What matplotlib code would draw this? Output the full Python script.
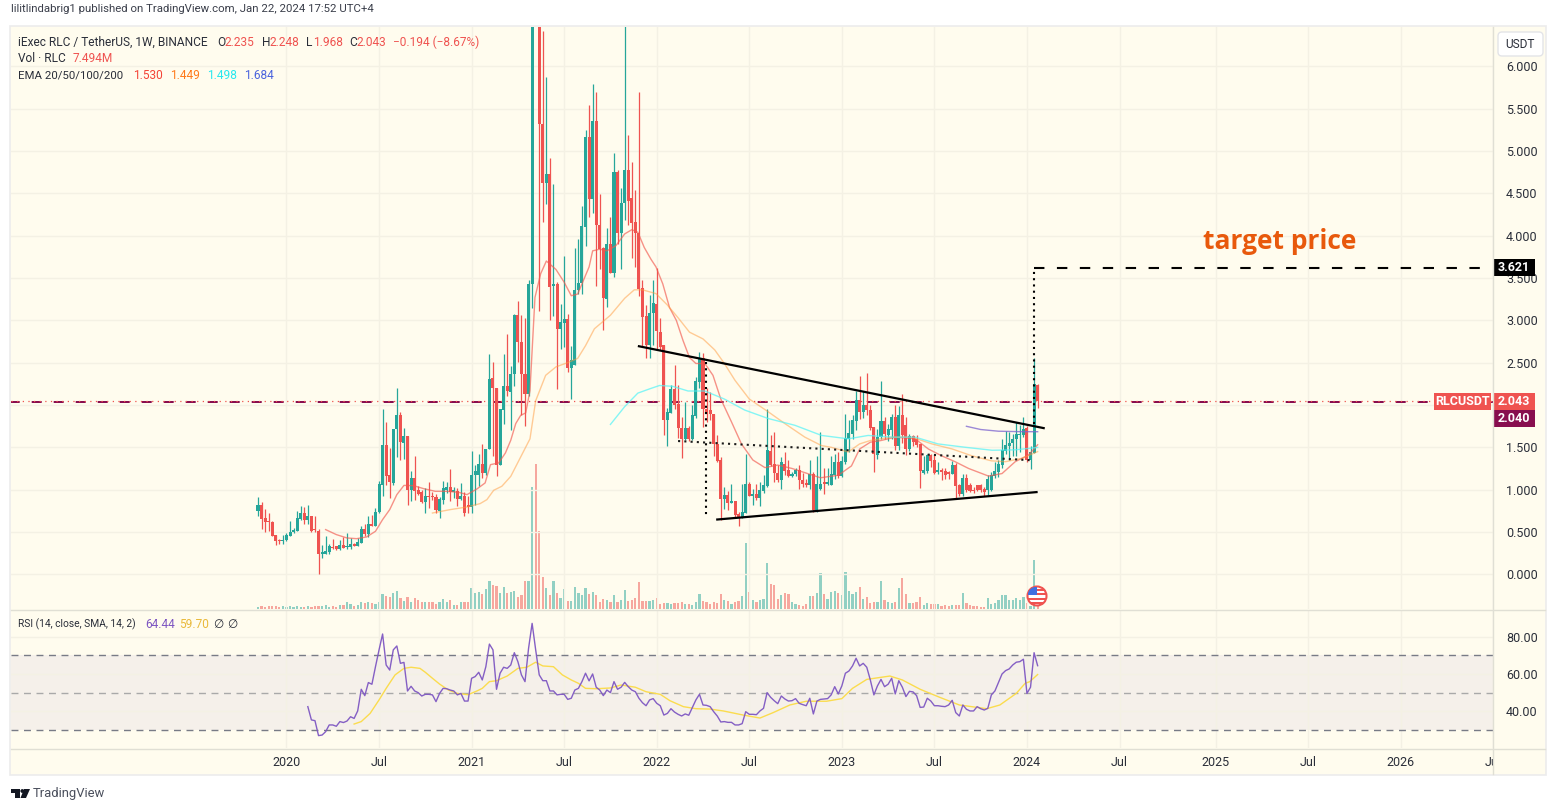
import matplotlib
matplotlib.use('Agg')
import matplotlib.pyplot as plt
from matplotlib.patches import Circle, FancyBboxPatch, Polygon, Rectangle
import numpy as np

W, H = 1557, 811

opens = [.752, .823, .669, .622, .622, .469, .40, .39, .40, .457,
         .496, .516, .657, .724, .646, .693, .528, .516, .244, .244,
         .26, .323, .33, .30, .35, .327, .323, .362, .339, .374,
         .539, .48, .598, .575, .732, 1.059, 1.531, 1.177, 1.079, 1.72,
         1.886, 1.551, 1.638, 1.0, 1.142, 1.0, .969, .858, .929, .921,
         .913, .752, .882, 1.0, 1.03, .97, .984, .894, .929, .82,
         .791, 1.169, 1.169, 1.307, 1.197, 1.484, 2.323, 2.205, 1.295, 1.94,
         2.22, 2.154, 2.362, 3.059, 2.744, 2.37, 2.134, 3.43, 7.6, 7.1,
         5.324, 4.616, 4.726, 3.402, 3.433, 2.898, 2.969, 3.02, 2.437, 2.47,
         3.362, 3.44, 4.1, 5.16, 4.436, 5.355, 4.13, 3.85, 3.25, 3.9,
         3.555, 4.75, 4.03, 4.39, 4.78, 4.44, 4.16, 4.03, 3.386, 3.047,
         2.705, 3.09, 3.197, 2.866, 2.713, 1.82, 1.905, 2.185, 2.01, 1.73,
         1.595, 1.73, 1.595, 1.87, 2.27, 2.55, 1.957, 1.937, 1.89, 1.54,
         1.347, .89, .933, .843, .863, .717, .677, .725, 1.063, .925,
         .945, .9, .985, 1.04, 1.453, 1.3, 1.2, 1.11, 1.307, 1.228,
         1.16, 1.18, 1.228, 1.11, 1.08, 1.05, 1.18, .756, 1.01, 1.09,
         1.07, 1.06, 1.17, 1.327, 1.16, 1.327, 1.6, 1.66, 1.807, 2.055,
         1.918, 2.004, 1.945, 1.74, 1.414, 1.62, 1.807, 1.65, 1.71, 1.86,
         1.52, 1.88, 1.76, 1.484, 1.63, 1.6, 1.535, 1.2, 1.22, 1.406,
         1.35, 1.21, 1.23, 1.217, 1.21, 1.19, 1.29, 1.05, .953, 1.142,
         1.05, .99, 1.05, 1.05, 1.01, 1.0, 1.0, 1.16, 1.21, 1.295,
         1.453, 1.51, 1.555, 1.6, 1.64, 1.65, 1.73, 1.355, 1.433, 2.235]
highs = [.917, .858, .772, .724, .634, .469, .42, .469, .49, .634,
         .547, .744, .811, .795, .823, .693, .693, .535, .35, .457,
         .362, .421, .339, .409, .441, .488, .429, .37, .429, .575,
         .598, .693, .705, .783, 1.098, 1.957, 1.803, 1.492, 1.72, 2.2,
         1.921, 1.728, 1.638, 1.22, 1.40, 1.04, 1.0, 1.02, 1.094, .97,
         .953, .913, 1.098, 1.094, 1.248, 1.03, 1.02, 1.079, .969, .921,
         1.461, 1.295, 1.425, 1.543, 1.484, 2.602, 2.512, 2.205, 1.953, 2.6,
         2.835, 2.457, 3.08, 3.224, 3.059, 3.03, 3.47, 8.2, 8.5, 7.4,
         6.42, 5.874, 4.915, 4.61, 3.45, 3.197, 3.756, 3.079, 2.7, 3.858,
         3.965, 4.35, 5.25, 5.54, 5.79, 5.7, 4.49, 3.86, 4.09, 4.216,
         4.98, 4.77, 4.56, 6.9, 5.19, 4.87, 4.54, 5.7, 3.47, 3.18,
         3.3, 3.47, 3.62, 3.03, 2.713, 1.96, 2.23, 2.47, 2.23, 1.86,
         2.035, 1.75, 2.0, 2.33, 2.62, 2.61, 2.2, 2.15, 1.89, 1.64,
         1.39, 1.03, .985, 1.063, .863, .737, 1.07, 1.418, 1.09, 1.01,
         1.07, 1.09, 1.17, 1.95, 1.642, 1.68, 1.29, 1.386, 1.445, 1.355,
         1.21, 1.25, 1.29, 1.2, 1.12, 1.35, 1.21, 1.4, 1.68, 1.25,
         1.25, 1.4, 1.42, 1.445, 1.4, 1.89, 1.82, 1.88, 2.17, 2.34,
         2.17, 2.38, 2.0, 1.74, 1.72, 2.28, 1.86, 1.78, 1.89, 1.996,
         1.99, 2.134, 1.86, 1.66, 1.65, 1.64, 1.535, 1.4, 1.425, 1.42,
         1.41, 1.33, 1.26, 1.25, 1.22, 1.34, 1.31, 1.07, 1.18, 1.19,
         1.08, 1.03, 1.06, 1.07, 1.03, 1.17, 1.21, 1.33, 1.35, 1.6,
         1.69, 1.68, 1.66, 1.8, 1.76, 1.86, 1.75, 1.52, 2.56, 2.248]
lows = [.693, .539, .5, .508, .449, .35, .36, .358, .39, .45,
        .488, .508, .646, .594, .594, .496, .50, .008, .193, .24,
        .244, .299, .291, .283, .311, .30, .299, .335, .335, .374,
        .457, .441, .567, .567, .724, .929, 1.059, .906, 1.059, 1.39,
        1.354, 1.362, .823, .87, .882, .94, .843, .724, .783, .88,
        .724, .661, .835, .96, .862, .90, .803, .882, .685, .724,
        .724, .823, 1.04, 1.138, 1.169, 1.484, 1.394, 1.165, 1.295, 1.78,
        2.1, 1.71, 2.224, 2.508, 1.878, 1.748, 2.1, 3.14, 6.6, 3.107,
        4.165, 4.37, 3.0, 3.05, 2.193, 2.665, 2.685, 2.39, 2.067, 2.47,
        3.315, 3.31, 3.88, 4.22, 4.27, 3.4, 3.61, 2.89, 3.16, 3.555,
        3.515, 3.9, 3.6, 4.18, 4.12, 3.73, 3.63, 3.29, 2.7, 2.55,
        2.55, 2.705, 2.646, 2.65, 1.64, 1.52, 1.9, 1.95, 1.61, 1.37,
        1.59, 1.58, 1.59, 1.85, 2.2, 1.74, 1.8, 1.82, 1.4, 1.33,
        .64, .775, .755, .84, .68, .57, .67, .72, .92, .815,
        .88, .81, .96, 1.03, 1.28, 1.09, 1.09, 1.012, 1.17, 1.15,
        1.15, 1.16, 1.012, 1.03, 1.03, 1.01, .74, .74, .99, .95,
        1.05, 1.05, 1.13, 1.14, 1.15, 1.3, 1.45, 1.6, 1.7, 1.83,
        1.85, 1.88, 1.7, 1.21, 1.36, 1.6, 1.6, 1.58, 1.6, 1.47,
        1.47, 1.55, 1.41, 1.46, 1.52, 1.5, 1.02, 1.19, 1.2, 1.27,
        1.18, 1.18, 1.11, 1.13, 1.13, 1.18, .906, .92, .93, .97,
        .97, .96, .98, .97, .93, .94, .98, 1.14, 1.15, 1.25,
        1.42, 1.35, 1.4, 1.4, 1.45, 1.62, 1.33, 1.24, 1.43, 1.968]
closes = [.823, .657, .614, .614, .457, .39, .39, .41, .47, .50,
          .528, .669, .724, .646, .693, .516, .52, .244, .26, .272,
          .339, .311, .303, .35, .315, .339, .362, .339, .386, .539,
          .48, .598, .575, .74, 1.071, 1.531, 1.165, 1.087, 1.72, 1.886,
          1.567, 1.638, 1.0, 1.142, .988, .953, .858, .929, .909, .91,
          .756, .89, 1.02, 1.03, .969, .99, .894, .929, .724, .80,
          1.177, 1.217, 1.307, 1.197, 1.484, 2.311, 2.197, 1.295, 1.953, 2.22,
          2.16, 2.362, 3.059, 2.744, 2.362, 2.126, 3.425, 7.6, 7.1, 5.324,
          4.616, 4.726, 3.39, 3.433, 2.898, 2.976, 3.02, 2.437, 2.535, 3.362,
          3.445, 4.117, 5.16, 4.43, 5.355, 4.13, 3.84, 3.26, 3.9, 3.56,
          4.75, 4.03, 4.39, 4.78, 4.41, 4.15, 4.03, 3.37, 3.04, 2.705,
          3.09, 3.21, 2.874, 2.68, 1.82, 1.913, 2.19, 2.0, 1.73, 1.595,
          1.73, 1.595, 1.88, 2.28, 2.555, 1.95, 1.917, 1.898, 1.54, 1.34,
          .89, .933, .843, .863, .697, .677, .733, 1.063, .925, .945,
          .898, .992, 1.05, 1.465, 1.288, 1.197, 1.11, 1.327, 1.22, 1.16,
          1.19, 1.23, 1.11, 1.07, 1.05, 1.18, .756, 1.07, 1.07, 1.065,
          1.09, 1.18, 1.327, 1.16, 1.34, 1.615, 1.67, 1.82, 2.055, 1.918,
          2.004, 1.937, 1.73, 1.425, 1.62, 1.807, 1.66, 1.72, 1.86, 1.52,
          1.88, 1.64, 1.484, 1.63, 1.565, 1.524, 1.22, 1.23, 1.406, 1.34,
          1.2, 1.23, 1.21, 1.17, 1.18, 1.29, 1.044, .953, 1.142, .992,
          .985, .98, .995, .99, .97, 1.13, 1.17, 1.22, 1.307, 1.465,
          1.524, 1.555, 1.6, 1.66, 1.66, 1.72, 1.355, 1.445, 2.25, 2.043]
# volume in millions of RLC
volumes = [1.2, 1.7, 1, 1.7, 1.7, 1.7, 1.2, 1.7, 1, 1.7,
           1, 1.7, 1.2, 1.2, 1.7, 1.2, 1.7, 1.7, 1.7, 2.2,
           1.2, 1.7, 1.2, 2.2, 2.2, 3.7, 2.7, 1.7, 2.2, 3.7,
           2.9, 3.7, 2.9, 2.7, 3.7, 7.7, 6.7, 6.2, 8.2, 9.2,
           5.7, 4.2, 6.2, 3.7, 5.7, 4.7, 3.7, 3.7, 3.7, 3.7,
           2.7, 3.7, 5.2, 3.7, 4.7, 2.2, 2.2, 3.7, 3.7, 3.7,
           10.7, 8.2, 8.7, 7.5, 10, 14, 12, 11.5, 8, 11,
           8, 8.5, 9, 6, 7, 14, 14, 61, 72.5, 39,
           16, 10.5, 7, 14, 8, 5.5, 10, 4, 4, 11,
           8, 7, 10.5, 7.5, 8.5, 7, 3.5, 5, 4.5, 3.5,
           7, 3.5, 4.5, 9.5, 4, 4.5, 5.5, 13.5, 4, 4,
           4, 4.5, 5.5, 2.5, 3, 3, 2.5, 3, 3, 3.5,
           2.5, 2.5, 2, 3.5, 7.5, 4, 3.5, 2.5, 3.5, 3,
           7.5, 4.5, 4, 2.5, 3.5, 4, 6.5, 33, 8.5, 4.5,
           3.5, 4.5, 5, 23, 12.5, 12, 5, 7, 8, 7.5,
           3.5, 2.5, 2, 1.5, 2.5, 6.5, 6.5, 8, 18, 7.5,
           5, 8.5, 9, 8, 7, 18.5, 9, 7.5, 8.5, 11,
           5, 6, 3, 3.5, 3.5, 14, 4.5, 3.5, 3, 3.5,
           10.5, 15.5, 7.5, 3, 3, 3.5, 6, 2, 3, 2.5,
           2.5, 2.5, 1.5, 2, 1.5, 2, 2, 2, 8, 3,
           2, 1.5, 1.5, 1, 1, 5.5, 2.5, 3, 4.5, 7,
           7, 4.5, 4.5, 5.5, 4.5, 6, 3, 1.5, 24.5, 7.494]

ema20_weeks = [19, 22, 25, 27.7, 30.5, 33, 35, 37, 39, 41, 43.7, 46.5, 49.8, 53, 56.3, 58.7, 61.5, 63.8, 65.3, 67.6,
               69.5, 71, 72.4, 73.8, 75.2, 76.4, 77.8, 79.4, 81, 83.7, 86, 88, 89.8, 93, 94, 96, 98, 100.5, 103, 105,
               106.7, 108.5, 110.4, 111.8, 113.7, 115.6, 117.5, 119.4, 121.2, 123, 125.5, 127.8, 130, 133, 135.8, 139,
               142.4, 146, 150, 158, 163, 166.7, 169, 172, 175, 179, 184.6, 188.3, 192, 195.8, 199.6, 205.2, 209,
               212.7, 216.5, 219]
ema20_vals = [.528, .469, .429, .421, .441, .508, .646, .764, .941, 1.05, 1.047, 1.012, .98, .98, .969, .941, 1.008,
              1.079, 1.295, 1.315, 1.433, 1.583, 1.78, 1.878, 1.906, 2.17, 3.27, 3.55, 3.70, 3.6, 3.45, 3.29, 3.31,
              3.63, 3.82, 3.84, 3.82, 3.88, 4.02, 4.07, 4.04, 3.86, 3.72, 3.63, 3.43, 3.15, 3.0, 2.76, 2.56, 2.49,
              2.49, 2.35, 2.07, 1.8, 1.54, 1.35, 1.26, 1.29, 1.25, 1.14, 1.17, 1.28, 1.48, 1.56, 1.58, 1.62, 1.60,
              1.48, 1.40, 1.33, 1.25, 1.16, 1.19, 1.33, 1.41, 1.53]
ema50_weeks = [49, 54, 58.7, 62.4, 64.3, 66.2, 68.5, 71, 76.4, 78, 80.8, 83.7, 87, 89.8, 92, 94.5, 99, 103, 105.7, 108,
               111.8, 115, 118, 121.2, 125, 128.3, 131, 134, 138, 143.3, 148, 153.6, 158.3, 161, 165.8, 169, 172, 178,
               183.6, 189.3, 195, 200.5, 206, 210, 214.6, 219]
ema50_vals = [.724, .764, .795, .835, .882, .992, 1.04, 1.157, 1.6, 2.05, 2.35, 2.45, 2.5, 2.55, 2.7, 2.9, 3.06, 3.26,
              3.36, 3.36, 3.315, 3.18, 3.03, 2.86, 2.78, 2.65, 2.49, 2.29, 2.07, 1.92, 1.78, 1.62, 1.52, 1.5, 1.445,
              1.54, 1.58, 1.62, 1.62, 1.54, 1.48, 1.40, 1.34, 1.33, 1.37, 1.449]
ema100_weeks = [99, 103, 106.7, 110, 112.8, 116.5, 120.8, 125.5, 131, 136.7, 143.3, 150.8, 158.3, 165.8, 171.4, 178,
                184.6, 191, 198.7, 206.2, 212.7, 219]
ema100_vals = [1.77, 1.98, 2.14, 2.19, 2.23, 2.22, 2.165, 2.165, 2.07, 1.94, 1.84, 1.76, 1.64, 1.60, 1.64, 1.62,
               1.62, 1.54, 1.50, 1.465, 1.47, 1.498]
ema200_weeks = [199, 203, 208, 213.7, 219]
ema200_vals = [1.748, 1.71, 1.69, 1.685, 1.684]

# rsi starts at week 14
rsi_vals = [42.5, 35.4, 35, 27, 27.3, 29.1, 32.7, 32.7, 32, 34.5, 34, 34.8, 37.1, 36.2, 40.2, 51.8, 48.4, 55.4, 54.5,
            63.9, 72.9, 81.4, 64.8, 62.1, 72.9, 75, 65.7, 66.2, 50.9, 53.4, 50.9, 50, 48.2, 49.1, 49.1, 48.8, 45.2,
            49.6, 52.3, 52.1, 51.4, 50.9, 48.8, 49.6, 45.5, 45.5, 57.7, 58.6, 60.9, 56.8, 63.9, 76, 72.9, 51.8, 60.4,
            63.6, 63, 64.8, 71.4, 66.6, 59.5, 55.9, 73.7, 87.1, 72.9, 59.5, 56.4, 56.4, 50.9, 50.9, 48.8, 49.1, 49.1,
            46.4, 47, 51.4, 52.3, 55.9, 60.4, 56.3, 60, 52.9, 51.4, 48.4, 51.4, 50, 55.9, 51.8, 52.9, 55.5, 53.2,
            51.4, 50.5, 47, 44.6, 43, 46.1, 46.8, 44.3, 43, 38, 38.9, 41.4, 39.6, 38.4, 37.5, 38.6, 37.9, 42, 46.1,
            49.1, 43.4, 43.2, 42.5, 39.8, 37.5, 34.3, 34.5, 34.1, 34.1, 32.7, 32.7, 33.4, 39.8, 38.4, 38.4, 38.2,
            40.2, 41.6, 50, 47.5, 45.7, 44.1, 48.2, 46.6, 45.5, 45.7, 46.8, 44.3, 43.6, 43, 47, 38.6, 45.5, 46.4,
            46.6, 46.8, 48.8, 53.2, 49.3, 53.6, 60.4, 61.6, 64.3, 68.4, 64.3, 65.7, 63.6, 56.8, 48.8, 53.6, 57.1,
            53.2, 54.5, 57.7, 49.3, 56.4, 52.9, 47.9, 50.7, 50.4, 48.4, 42.1, 42.3, 47, 45.5, 43, 43, 42.7, 42.5,
            43.4, 45.9, 39.3, 37.5, 43.4, 41.1, 40.2, 40.2, 42.5, 41.4, 40.7, 41.6, 48.8, 50.9, 55.4, 60, 61.8, 62.7,
            64.8, 66.3, 66.6, 67.9, 49.6, 52.9, 71.4, 64.44]
rsi_sma_weeks = [27, 29, 31.5, 34, 36, 38.5, 41, 43, 45.5, 47, 49, 51, 53.5, 56, 59, 61.5, 63, 65, 67, 70, 73, 75.5,
                 78, 80, 83, 85.5, 88, 90, 92, 95, 99, 102, 106, 109, 113, 115.7, 119.5, 123, 127, 130.7, 136.3, 141,
                 144.7, 149.4, 154, 159.7, 164, 167, 171, 177.5, 181, 186, 191.5, 197, 204.7, 208.4, 213, 215.5,
                 216.8, 219]
rsi_sma_vals = [33.2, 34.5, 38.9, 46.1, 52.3, 59.5, 63, 63.6, 63, 60.9, 57.7, 54.6, 51.4, 49.6, 48.9, 50.9, 52.3, 55.9,
                56.4, 58.9, 63, 63.6, 66.3, 64.3, 63.9, 59.5, 56.8, 55, 52.3, 52.1, 52.5, 54.1, 52.9, 50.5, 49.1, 45.7,
                42.5, 41.4, 41.2, 40.2, 38, 36.4, 39.3, 43.4, 45.4, 45.4, 46.8, 52.3, 57.1, 58.9, 56.8, 51.8, 47.5,
                43.4, 41.4, 43.4, 49.6, 55, 55.9, 59.7]

time_ticks = [8, 34, 60, 86, 112, 138, 164, 190, 216, 242, 269, 295, 321, 347]
time_labels = ['2020', 'Jul', '2021', 'Jul', '2022', 'Jul', '2023', 'Jul', '2024', 'Jul', '2025', 'Jul', '2026', 'Jul']
price_ticks = np.arange(0, 6.5, 0.5)
rsi_ticks = [40, 60, 80]

# hand drawn lines on the chart (week, price)
upper_line = ([106.7, 221], [2.696, 1.724])
lower_line = ([128.7, 219], [.646, .972])
mid_line = ([118, 217.7], [1.574, 1.346])
drop_line = ([125.8, 125.8], [2.507, .677])
target_rise = ([218, 218], [1.78, 3.621])
target_run = ([218, 344.5], [3.621, 3.621])
target_text = (287, 3.93)

BG = '#fffcee'
GRID = '#f4f1e4'
UP = '#26a69a'
DOWN = '#ef5350'
TEXT = '#2a2e39'
FONT = 'Roboto'
plt.rcParams['font.family'] = [FONT, 'DejaVu Sans']

SPACING = 3.56
X0 = 258.0
AX_L, AX_R = 11, 1493.5


def px_axes(x0, y0, x1, y1, **kw):
    return fig.add_axes([x0 / W, 1 - y1 / H, (x1 - x0) / W, (y1 - y0) / H], **kw)


fig = plt.figure(figsize=(W / 100, H / 100), dpi=100, facecolor='white')
xlim = ((AX_L - X0) / SPACING, (AX_R - X0) / SPACING)
weeks = np.arange(len(closes))
o, h_, l_, c = map(np.array, (opens, highs, lows, closes))
colors = np.where(c >= o, UP, DOWN)

# volume sits under the candles in the same pane
ax_vol = px_axes(AX_L, 27, AX_R, 609)
ax_vol.set_facecolor(BG)
ax_vol.set_xlim(xlim)
ax_vol.set_ylim(0, 291)
ax_vol.bar(weeks, volumes, width=0.62, color=list(colors), alpha=0.5, linewidth=0)
ax_vol.axis('off')
ax_vol.patch.set_visible(True)

ax = px_axes(AX_L, 27, AX_R, 609)
ax.patch.set_alpha(0)
ax.set_xlim(xlim)
ax.set_ylim((574.3 - 609) / 84.67, (574.3 - 27) / 84.67)
ax.set_xticks(time_ticks)
ax.set_yticks(price_ticks)
# 2.000 sits under the price tags, so it gets no label
ax.set_yticklabels(['' if p == 2.0 else '%.3f' % p for p in price_ticks])
ax.yaxis.tick_right()
ax.tick_params(axis='y', length=0, pad=9, labelsize=9, labelcolor=TEXT)
ax.tick_params(axis='x', length=0, labelbottom=False)
ax.grid(True, color=GRID, linewidth=1.0)
ax.set_axisbelow(True)
for s in ax.spines.values():
    s.set_visible(False)

# 2.040 horizontal line and last price line
ax.axhline(2.040, color='#880e4f', lw=1.44, linestyle=(0.65, (5, 6)), dash_capstyle='butt', zorder=1.5)
ax.axhline(2.043, color=DOWN, lw=0.9, linestyle=(0, (1, 3.5)), zorder=1.6)

# candles
ax.vlines(weeks, l_, h_, colors=list(colors), linewidth=0.9, zorder=2)
bodies = np.maximum(np.abs(c - o), 0.012)
ax.bar(weeks, bodies, bottom=np.minimum(o, c), width=0.86, color=list(colors), linewidth=0, zorder=2.1)

# ema lines
ax.plot(ema20_weeks, ema20_vals, color='#f2594f', alpha=0.65, lw=1.0, zorder=2.5)
ax.plot(ema50_weeks, ema50_vals, color='#ff9a3c', alpha=0.5, lw=1.0, zorder=2.5)
ax.plot(ema100_weeks, ema100_vals, color='#52f3f7', alpha=0.7, lw=1.0, zorder=2.5)
ax.plot(ema200_weeks, ema200_vals, color='#7b63cf', alpha=0.75, lw=1.0, zorder=2.5)

# trend lines
for xs, ys in (upper_line, lower_line):
    ax.plot(xs, ys, color='black', lw=1.6, solid_capstyle='butt', zorder=3)
ax.plot(*mid_line, color='#1a1a1a', lw=1.5, linestyle=(0, (1, 2)), zorder=3)
ax.plot(*drop_line, color='black', lw=1.5, linestyle=(0, (1, 2)), zorder=3)
ax.plot(*target_rise, color='black', lw=1.5, linestyle=(0, (1, 2)), zorder=3)
ax.plot(*target_run, color='black', lw=1.5, linestyle=(0, (5, 6)), dash_capstyle='butt', zorder=3)
ax.text(*target_text, 'target price', color='#e8590c', fontsize=19, fontweight='bold',
        family='Open Sans', va='center', ha='center', zorder=4)

# rsi pane
ax_rsi = px_axes(AX_L, 610, AX_R, 748)
ax_rsi.set_facecolor(BG)
ax_rsi.set_xlim(xlim)
ax_rsi.set_ylim(30 - (748 - 730) / 1.8675, 70 + (655.3 - 610) / 1.8675)
ax_rsi.axhspan(30, 70, color='#7e57c2', alpha=0.07, linewidth=0, zorder=0.5)
for level, col in ((70, '#787b86'), (50, '#a9a9a9'), (30, '#787b86')):
    ax_rsi.axhline(level, color=col, lw=1.0, linestyle=(0, (5, 4)), zorder=1)
ax_rsi.plot(np.arange(14, 14 + len(rsi_vals)), rsi_vals, color='#7e57c2', lw=1.0, alpha=0.95, zorder=3)
ax_rsi.plot(rsi_sma_weeks, rsi_sma_vals, color='#fbdc4e', lw=1.0, zorder=2.5)
ax_rsi.set_xticks(time_ticks)
ax_rsi.set_xticklabels(time_labels)
ax_rsi.set_yticks(rsi_ticks)
ax_rsi.set_yticklabels(['%.2f' % r for r in rsi_ticks])
ax_rsi.yaxis.tick_right()
ax_rsi.tick_params(axis='y', length=0, pad=9, labelsize=9, labelcolor=TEXT)
ax_rsi.tick_params(axis='x', length=0, pad=6, labelsize=9, labelcolor=TEXT)
ax_rsi.grid(True, color=GRID, linewidth=1.0)
ax_rsi.set_axisbelow(True)
for s in ax_rsi.spines.values():
    s.set_visible(False)

# background of axis strips goes behind everything
ax_back = fig.add_axes([0, 0, 1, 1], zorder=-5)
ax_back.set_xlim(0, W)
ax_back.set_ylim(H, 0)
ax_back.axis('off')
ax_back.add_patch(Rectangle((10, 26), 1536, 749, facecolor=BG, edgecolor='#ececec', lw=1.2))

# overlay in pixels for labels, boxes and the icon
ov = fig.add_axes([0, 0, 1, 1], zorder=10)
ov.set_xlim(0, W)
ov.set_ylim(H, 0)
ov.axis('off')
ov.patch.set_alpha(0)
ov.plot([1493.5, 1493.5], [27, 774], color='#e0dfd4', lw=1)
ov.plot([11, 1545], [748.5, 748.5], color='#e0dfd4', lw=1)
ov.plot([11, 1545], [609.5, 609.5], color='#e0dfd4', lw=1)
ov.add_patch(Rectangle((1494, 749), 51, 25, facecolor=BG, edgecolor='none'))
ov.add_patch(FancyBboxPatch((1499, 33), 43, 22, boxstyle='round,pad=1,rounding_size=4', facecolor='white',
                            edgecolor='#e3e4e8', lw=1))
ov.text(1520, 44, 'USDT', fontsize=8.6, color=TEXT, ha='center', va='center')


def tag(x0, y0, x1, y1, text, color):
    ov.add_patch(Rectangle((x0, y0), x1 - x0, y1 - y0, facecolor=color, edgecolor='none'))
    ov.text((x0 + x1) / 2, (y0 + y1) / 2, text, color='white', fontsize=9, fontweight='bold', ha='center',
            va='center')


tag(1493, 259, 1535, 276, '3.621', '#000000')
tag(1434, 393, 1491, 410, 'RLCUSDT', DOWN)
tag(1493, 393, 1535, 410, '2.043', DOWN)
tag(1493, 410, 1535, 427, '2.040', '#880e4f')


def label(x, y, text, color=TEXT, size=8.6):
    ov.text(x, y, text, color=color, fontsize=size, ha='left', va='center')


label(11, 9, 'lilitlindabrig1 published on TradingView.com, Jan 22, 2024 17:52 UTC+4', color='#3a3e4a', size=8.2)
label(18, 42, 'iExec RLC / TetherUS, 1W, BINANCE')
for x, text, col in ((217, 'O', TEXT), (225, '2.235', DOWN), (262, 'H', TEXT), (270, '2.248', DOWN),
                     (306, 'L', TEXT), (313, '1.968', DOWN), (349, 'C', TEXT), (357, '2.043', DOWN),
                     (393, '\u22120.194 (\u22128.67%)', DOWN)):
    label(x, 42, text, col)
label(18, 59, 'Vol \u00b7 RLC')
label(73, 59, '7.494M', DOWN)
label(18, 75.5, 'EMA 20/50/100/200', size=8.2)
for x, text, col in ((133, '1.530', '#f44336'), (170, '1.449', '#ff7a1a'), (207, '1.498', '#27e8ee'),
                     (244, '1.684', '#4a63dd')):
    label(x, 75.5, text, col)
label(18, 624, 'RSI (14, close, SMA, 14, 2)', size=7.4)
label(145, 624, '64.44', '#7e57c2')
label(179, 624, '59.70', '#e9b93a')
label(213, 624, '\u2205')
label(227, 624, '\u2205')

# earnings style flag icon
disc = Circle((1037, 596), 9.5, facecolor='white', edgecolor='#ef5350', lw=1.5)
ov.add_patch(disc)
for yy in (589.5, 594, 598.5, 603):
    stripe = Rectangle((1027, yy - 1), 20, 2.2, facecolor='#ef5350', edgecolor='none')
    ov.add_patch(stripe)
    stripe.set_clip_path(disc)
canton = Rectangle((1028, 587), 9, 8, facecolor='#3f6fe0', edgecolor='none')
ov.add_patch(canton)
canton.set_clip_path(disc)

# TradingView logo
ov.add_patch(Polygon([(11, 789), (20, 789), (20, 798), (15, 798), (15, 793), (11, 793)], facecolor='#131722'))
ov.add_patch(Circle((22.3, 791), 1.9, facecolor='#131722'))
ov.add_patch(Polygon([(24, 789), (30, 789), (26, 798), (20.5, 798)], facecolor='#131722'))
label(33, 794, 'TradingView', color='#4a4f5c', size=9.4)

fig.savefig('out.png', dpi=100, facecolor='white')
